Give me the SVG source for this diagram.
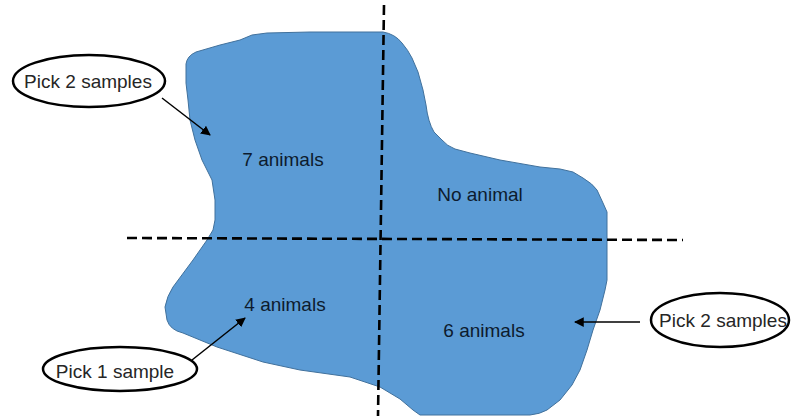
<svg xmlns="http://www.w3.org/2000/svg" width="792" height="416" viewBox="0 0 792 416">
<style>
.region{fill:#5B9BD5;stroke:#41719C;stroke-width:1;stroke-linejoin:round}
.dash{stroke:#000;stroke-width:2.6;stroke-dasharray:10 5;fill:none}
.lbl{font-family:"Liberation Sans",Arial,sans-serif;font-size:19px;fill:#0d1b2e;text-anchor:middle}
.call{fill:#fff;stroke:#000;stroke-width:2.5}
.ctext{font-family:"Liberation Sans",Arial,sans-serif;font-size:19px;fill:#262626;text-anchor:middle}
.arr{stroke:#000;stroke-width:1.5;fill:none;marker-end:url(#ah)}
</style>
<defs>
<marker id="ah" viewBox="0 0 10 10" refX="9" refY="5" markerWidth="6.5" markerHeight="6.5" orient="auto" markerUnits="strokeWidth">
<path d="M0,0 L10,5 L0,10 z" fill="#000"/>
</marker>
</defs>
<g id="area">
<path class="region" d="M186,64 Q187,56 196,52 L220,45 L240,40 L252,35 L267,33 L310,32 L383,32 Q395,34 402,43 Q408,50 412,58 L418,72 L423,90 L426,105 Q428,122 434,132 L442,140 Q447,146 455,149 L470,153 L500,160 L540,167 L560,169 L573,172 L583,178 Q593,184 597,190 L603,203 L607,212 L607,280 L605,290 L600,310 L593,330 L587,350 L580,370 L572,385 L560,400 L547,410 Q540,414 530,415 L420,415 L413,410 L400,399 L380,387 L350,377 L300,370 L263,362 L217,347 L183,333 Q170,330 167,320 L165,307 Q167,296 173,287 L193,260 L207,240 L213,230 L215,220 L215,200 L212,180 L202,160 L195,140 L190,120 L188,100 L186,83 Z"/>
</g>
<g id="dividers">
<line class="dash" x1="384" y1="5" x2="378" y2="416"/>
<line class="dash" x1="127" y1="238" x2="683" y2="240"/>
</g>
<g id="labels">
<text class="lbl" x="283" y="166">7 animals</text>
<text class="lbl" x="480" y="201">No animal</text>
<text class="lbl" x="285" y="311">4 animals</text>
<text class="lbl" x="484" y="337">6 animals</text>
</g>
<g id="connectors">
<line class="arr" x1="162" y1="98" x2="210" y2="135"/>
<line class="arr" x1="192" y1="360" x2="245" y2="318"/>
<line class="arr" x1="640" y1="322" x2="575" y2="322"/>
</g>
<g id="callout-top-left">
<ellipse class="call" cx="89" cy="81" rx="76" ry="26"/>
<text class="ctext" x="88" y="88">Pick 2 samples</text>
</g>
<g id="callout-bottom-left">
<ellipse class="call" cx="120" cy="369" rx="77" ry="22"/>
<text class="ctext" x="115" y="378">Pick 1 sample</text>
</g>
<g id="callout-right">
<ellipse class="call" cx="720" cy="320" rx="69" ry="27"/>
<text class="ctext" x="723" y="327">Pick 2 samples</text>
</g>
</svg>
